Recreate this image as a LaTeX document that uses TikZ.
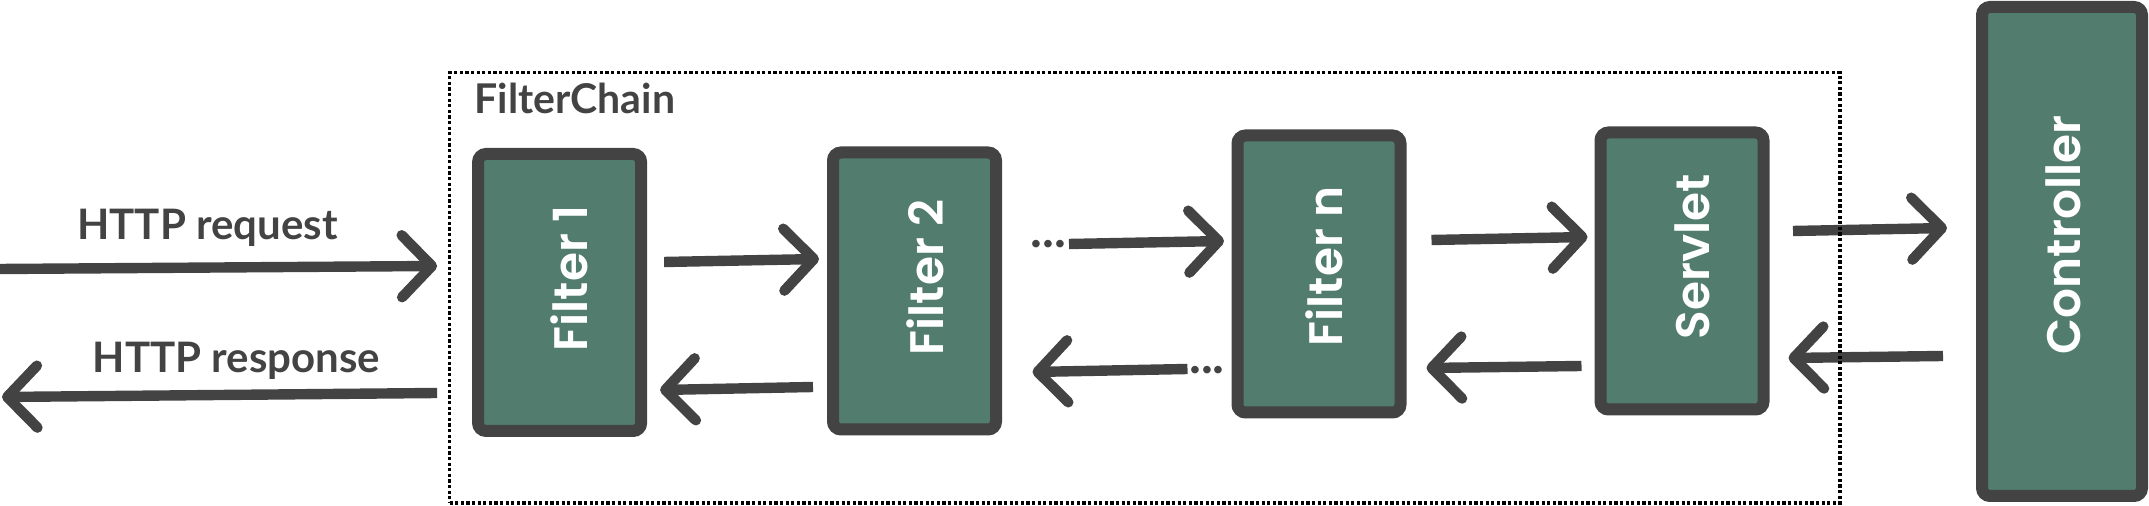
\documentclass[tikz,border=0pt]{standalone}
\usepackage{fontspec}
\setmainfont{Lato}
\newfontfamily\boxfont{Poppins SemiBold}
\usetikzlibrary{arrows.meta}
\definecolor{boxfill}{RGB}{81,124,110}
\definecolor{dark}{RGB}{67,67,67}
\begin{document}
\begin{tikzpicture}[x=0.5pt,y=-0.5pt,
  stage/.style={draw=dark, fill=boxfill, line width=6pt, rounded corners=4pt,
    minimum width=81.5pt, minimum height=138.5pt, inner sep=0pt},
  stagelabel/.style={rotate=90, text=white, inner sep=0pt,
    font=\boxfont\fontsize{23.5}{23.5}\selectfont},
  conn/.style={draw=dark, line width=5.2pt,
    -{Straight Barb[length=15pt,width=31pt,round]}},
  lbl/.style={text=dark, inner sep=0pt, font=\bfseries\fontsize{21}{21}\selectfont},
  dotsty/.style={text=dark, inner sep=0pt, font=\bfseries\fontsize{25}{25}\selectfont},
  chainbox/.style={draw=black, line width=1.6pt, dash pattern=on 1.6pt off 1.2pt,
    inner sep=0pt}
]
\useasboundingbox (0,0) rectangle (2149,506);

% boxes
\node[stage] (f1) at (559.6,292.5) {};
\node[stage] (f2) at (914.5,291) {};
\node[stage] (fn) at (1319,274) {};
\node[stage] (sv) at (1682,271) {};
\node[stage, minimum width=80pt, minimum height=244.5pt] (ct) at (2062,251.5) {};

% box labels
\node[stagelabel] (l1) at ([shift={(9.5,-14)}]f1.center) {Filter 1};
\node[stagelabel] (l2) at ([shift={(10.5,-13.5)}]f2.center) {Filter 2};
\node[stagelabel] (ln) at ([shift={(5,-7.5)}]fn.center) {Filter n};
\node[stagelabel] (ls) at ([shift={(10,-14.5)}]sv.center) {Servlet};
\node[stagelabel] (lc) at ([shift={(1,-16.5)}]ct.center) {Controller};

% free ends
\coordinate (reqstart) at (0,269);
\coordinate (resend) at (2,397);
\coordinate (backdots) at (1032.5,372);

% dots
\node[dotsty] (dotsA) at (1048.5,244) {...};
\node[dotsty] (dotsB) at (1207,370) {...};

% connectors
\draw[conn] (reqstart) -- ([shift={(-35,-26.5)}]f1.west);
\draw[conn] ([shift={(-35,100.5)}]f1.west) -- (resend);
\draw[conn] ([shift={(17,-30.5)}]f1.east) -- ([shift={(-8,-32)}]f2.west);
\draw[conn] ([shift={(-14,96)}]f2.west) -- ([shift={(13,97.5)}]f1.east);
\draw[conn] ([shift={(20.5,0)}]dotsA.center) -- ([shift={(-7.5,-33)}]fn.west);
\draw[conn] ([shift={(-19.5,-1)}]dotsB.center) -- (backdots);
\draw[conn] ([shift={(25,-34)}]fn.east) -- ([shift={(-7,-34)}]sv.west);
\draw[conn] ([shift={(-13,95)}]sv.west) -- ([shift={(20,94)}]fn.east);
\draw[conn] ([shift={(23.5,-40)}]sv.east) -- ([shift={(-29,-23.5)}]ct.west);
\draw[conn] ([shift={(-33,104.5)}]ct.west) -- ([shift={(19,87)}]sv.east);

% labels
\node[lbl, anchor=base] (req) at (207.5,240) {HTTP request};
\node[lbl, anchor=base] (res) at (236.5,373) {HTTP response};

% filter chain container
\node[chainbox, minimum width=695.15pt, minimum height=215.15pt] (chain) at (1144.75,287.85) {};
\node[text=dark, inner sep=0pt, anchor=base west, font=\bfseries\fontsize{20.5}{20.5}\selectfont] (chainlbl) at (474,114) {FilterChain};
\end{tikzpicture}
\end{document}
